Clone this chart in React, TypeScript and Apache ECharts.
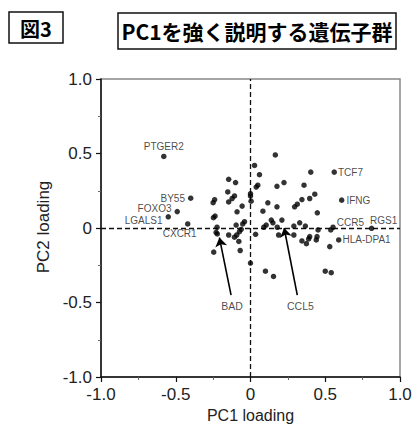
import React, { useEffect, useRef } from "react";
import * as echarts from "echarts";

// Axis ticks
const xTicks = [-1.0, -0.5, 0, 0.5, 1.0];
const yTicks = [-1.0, -0.5, 0, 0.5, 1.0];

// Labeled genes (PC1 loading, PC2 loading)
const labeledGenes = ["PTGER2", "BY55", "FOXO3", "LGALS1", "CXCR1", "TCF7", "IFNG", "CCR5", "RGS1", "HLA-DPA1"];
const labeledPC1 = [-0.58, -0.40, -0.49, -0.55, -0.42, 0.56, 0.61, 0.552, 0.81, 0.59];
const labeledPC2 = [0.48, 0.20, 0.11, 0.075, 0.027, 0.375, 0.187, 0.005, -0.002, -0.08];

// Unlabeled genes
const otherPC1 = [
  -0.24, -0.25, -0.237, -0.248, -0.224, -0.23, -0.222, -0.246, -0.146, -0.10,
  -0.152, -0.107, -0.123, -0.146, -0.056, -0.09, -0.04, -0.052, -0.096, -0.146,
  -0.092, -0.107, -0.074, -0.062, -0.078, -0.069, 0, 0, 0.004, 0.027,
  0.06, 0.049, 0.038, 0.034, 0.083, 0, 0.166, 0.403, 0.224, 0.177,
  0.358, 0.43, 0.396, 0.344, 0.313, 0.295, 0.116, 0.177, 0.447, 0.139,
  0.15, 0.21, 0.105, 0.089, 0.179, 0.329, 0.367, 0.29, 0.452, 0.188,
  0.29, 0.396, 0.389, 0.445, 0.44, 0.344, 0.374, 0.537, 0.53, 0.10,
  0.154, 0.50, 0.54,
];
const otherPC2 = [
  0.19, 0.17, 0.08, 0.069, 0.005, -0.03, -0.04, -0.162, 0.327, 0.305,
  0.242, 0.215, 0.198, 0.175, 0.147, 0.109, 0.042, 0.027, 0.02, -0.047,
  -0.047, -0.062, -0.025, -0.009, -0.09, -0.151, 0.23, 0.215, 0.18, 0.42,
  0.358, 0.287, 0.275, -0.042, 0.113, -0.235, 0.49, 0.375, 0.305, 0.28,
  0.287, 0.227, 0.198, 0.191, 0.16, 0.142, 0.169, 0.142, 0.102, 0.053,
  0.035, 0.053, 0.02, 0.005, 0.005, 0.035, 0.013, 0.013, -0.013, -0.047,
  -0.047, -0.058, -0.073, -0.058, -0.08, -0.087, -0.105, -0.013, -0.125, -0.29,
  -0.325, -0.29, -0.30,
];

// Arrow annotations: label position (tail) and pointed gene position (head)
const arrowGenes = ["BAD", "CCL5"];
const arrowLabelPC1 = [-0.124, 0.334];
const arrowLabelPC2 = [-0.525, -0.525];
const arrowTailPC1 = [-0.13, 0.313];
const arrowTailPC2 = [-0.45, -0.45];
const arrowHeadPC1 = [-0.208, 0.225];
const arrowHeadPC2 = [-0.064, 0.0];

const figureTag = "図3";
const titleText = "PC1を強く説明する遺伝子群";
const xName = "PC1 loading";
const yName = "PC2 loading";

// label placement styles
const labelPlacement: Record<string, any> = {
  PTGER2: { position: "top", distance: 2 },
  BY55: { position: "left", distance: 3 },
  FOXO3: { position: "left", distance: 3, offset: [0, -3] },
  LGALS1: { position: "left", distance: 3, offset: [0, 4] },
  CXCR1: { position: "bottom", distance: 2, offset: [-8, 0] },
  TCF7: { position: "right", distance: 1 },
  IFNG: { position: "right", distance: 2 },
  CCR5: { position: "right", distance: 1, offset: [0, -5] },
  RGS1: { position: "top", distance: 0, offset: [12, 0] },
  "HLA-DPA1": { position: "right", distance: 1 },
};

const FONT = "'Liberation Sans', Arial, sans-serif";

export default function App() {
  const ref = useRef<HTMLDivElement>(null);
  useEffect(() => {
    if (!ref.current) return;
    const chart = echarts.init(ref.current, undefined, { renderer: "svg" });
    const fmt = (v: number) => (v === 0 ? "0" : v.toFixed(1));
    const axisCommon = {
      type: "value",
      min: -1,
      max: 1,
      interval: 0.5,
      axisLine: { show: true, onZero: false, lineStyle: { color: "#111", width: 1.5 } },
      axisTick: { show: true, inside: false, length: 5, lineStyle: { color: "#111", width: 1.2 } },
      minorTick: { show: true, splitNumber: 2, length: 3, lineStyle: { color: "#666", width: 1 } },
      splitLine: { show: false },
      axisLabel: {
        fontSize: 17,
        color: "#222",
        fontFamily: FONT,
        formatter: fmt,
        showMinLabel: true,
        showMaxLabel: true,
      },
      nameLocation: "middle",
    };
    const option: any = {
      animation: false,
      backgroundColor: "#fff",
      grid: {
        left: 101,
        right: 14,
        top: 79,
        bottom: 47,
        show: true,
        borderColor: "#888",
        borderWidth: 1.5,
        containLabel: false,
        outerBoundsMode: "none",
      },
      xAxis: {
        ...axisCommon,
        axisLabel: { ...axisCommon.axisLabel, margin: 9, customValues: xTicks },
        name: xName,
        nameGap: 26,
        nameTextStyle: { fontSize: 16, color: "#222", fontFamily: FONT },
      },
      yAxis: {
        ...axisCommon,
        axisLabel: { ...axisCommon.axisLabel, margin: 9, customValues: yTicks },
        name: yName,
        nameGap: 26,
        nameTextStyle: { fontSize: 17, color: "#222", fontFamily: FONT, padding: [0, 0, 0, 2] },
      },
      graphic: [
        {
          type: "rect",
          shape: { x: 9, y: 12, width: 54, height: 31 },
          style: { fill: "#fff", stroke: "#111", lineWidth: 1.5 },
        },
        {
          type: "text",
          x: 36,
          y: 28,
          style: {
            text: figureTag,
            fontSize: 20,
            fontWeight: "bold",
            fontFamily: "'Noto Sans CJK JP', sans-serif",
            fill: "#000",
            align: "center",
            verticalAlign: "middle",
            textAlign: "center",
            textVerticalAlign: "middle",
          },
        },
        {
          type: "rect",
          shape: { x: 118, y: 13, width: 278, height: 36 },
          style: { fill: "#fff", stroke: "#111", lineWidth: 1.5 },
        },
        {
          type: "text",
          x: 257,
          y: 31,
          style: {
            text: titleText,
            fontSize: 21,
            fontWeight: "bold",
            fontFamily: "'Noto Sans CJK JP', sans-serif",
            fill: "#000",
            align: "center",
            verticalAlign: "middle",
            textAlign: "center",
            textVerticalAlign: "middle",
          },
        },
      ],
      series: [
        {
          type: "scatter",
          symbol: "circle",
          symbolSize: 5.5,
          itemStyle: { color: "#000" },
          data: otherPC1.map((x, i) => [x, otherPC2[i]]),
          z: 3,
          markLine: {
            silent: true,
            symbol: ["none", "none"],
            label: { show: false },
            lineStyle: { color: "#111", width: 1.3, type: [5, 3] },
            data: [{ xAxis: 0 }, { yAxis: 0 }],
            z: 2,
          },
        },
        {
          type: "scatter",
          symbol: "circle",
          symbolSize: 5.5,
          itemStyle: { color: "#000" },
          z: 3,
          data: labeledGenes.map((g, i) => ({
            name: g,
            value: [labeledPC1[i], labeledPC2[i]],
            label: {
              show: true,
              formatter: "{b}",
              fontSize: 10,
              color: "#1a1a1a",
              fontFamily: FONT,
              ...labelPlacement[g],
            },
          })),
        },
        {
          type: "scatter",
          symbol: "circle",
          symbolSize: 1,
          itemStyle: { color: "rgba(0,0,0,0)" },
          z: 4,
          data: arrowGenes.map((g, i) => ({
            name: g,
            value: [arrowLabelPC1[i], arrowLabelPC2[i]],
          })),
          label: {
            show: true,
            position: "inside",
            formatter: "{b}",
            fontSize: 10.5,
            color: "#1a1a1a",
            fontFamily: FONT,
          },
          markLine: {
            silent: true,
            symbol: ["none", "arrow"],
            symbolSize: 9,
            label: { show: false },
            lineStyle: { color: "#000", width: 1.6, type: "solid" },
            data: arrowGenes.map((_, i) => [
              { coord: [arrowTailPC1[i], arrowTailPC2[i]] },
              { coord: [arrowHeadPC1[i], arrowHeadPC2[i]] },
            ]),
          },
        },
      ],
    };
    chart.setOption(option);
    return () => chart.dispose();
  }, []);
  return (
    <div
      ref={ref}
      style={{ position: "fixed", left: 0, top: 0, width: 414, height: 424, background: "#fff" }}
    />
  );
}
